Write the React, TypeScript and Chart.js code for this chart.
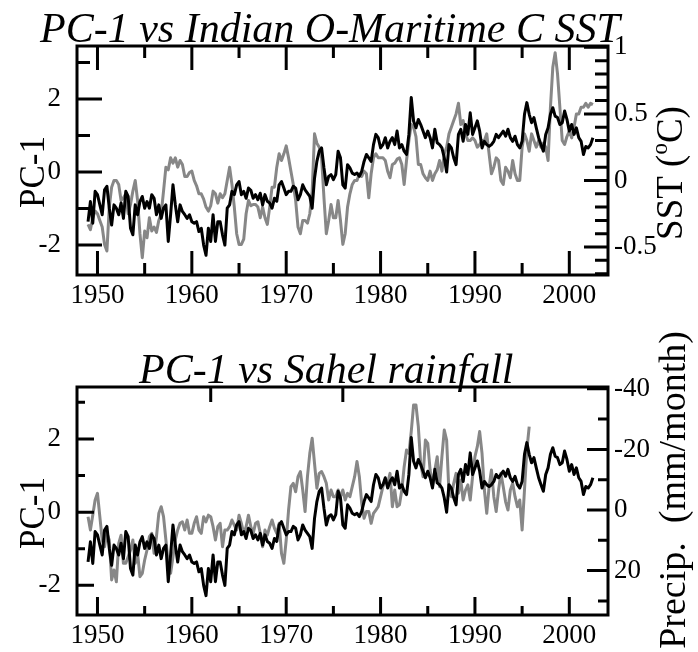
import React, { useEffect, useRef } from "react";
import { Chart, registerables } from "chart.js";

Chart.register(...registerables);

// ---------- DATA (quarterly, starting 1949.0) ----------
const START_YEAR = 1949;
const STEP = 0.25;

const pc1 = [
  -1.36, -0.81, -1.4, -0.53,
  -0.62, -0.9, -1.17, -0.49,
  -0.39, -0.99, -1.45, -0.9,
  -0.99, -1.17, -0.85, -1.27,
  -0.53, -0.67, -1.54, -1.72,
  -0.9, -1.17, -0.81, -0.67,
  -0.99, -0.81, -0.99, -0.62,
  -0.72, -1.17, -0.9, -1.27,
  -0.99, -0.9, -1.9, -1.17,
  -0.35, -0.9, -1.36, -0.9,
  -1.08, -1.17, -1.27, -1.17,
  -1.36, -1.4, -1.36, -1.63,
  -1.54, -2.0, -2.28, -1.54,
  -1.9, -1.17, -1.9, -1.36,
  -1.36, -1.72, -2.0, -0.99,
  -0.9, -0.53, -0.62, -0.35,
  -0.26, -0.62, -0.53, -0.72,
  -0.44, -0.5, -0.72, -0.62,
  -0.76, -0.58, -0.9, -0.62,
  -0.8, -0.85, -0.99, -0.72,
  -0.8, -0.35, -0.26, -0.44,
  -0.62, -0.53, -0.53, -0.39,
  -0.44, -0.76, -0.62, -0.35,
  -0.49, -0.58, -0.67, -0.99,
  -0.17, 0.29, 0.57, 0.66,
  0.11, -0.35, -0.12, -0.07,
  -0.21, -0.07, 0.57, 0.39,
  -0.35, -0.44, 0.2, 0.11,
  -0.03, -0.07, -0.03, -0.12,
  0.02, 0.29, 0.48, 0.39,
  0.29, 0.75, 1.03, 0.94,
  0.66, 0.75, 0.94, 0.66,
  0.84, 0.94, 0.75, 1.12,
  0.66, 0.75, 0.57, 0.48,
  1.03, 2.04, 1.39, 1.21,
  1.44, 1.3, 1.12, 0.94,
  1.12, 0.94, 0.66, 1.17,
  0.8, 0.75, 0.66, 0.39,
  0.0, 0.75, 0.66, 0.39,
  0.2, 1.03, 1.17, 0.84,
  1.3, 1.03, 1.62, 1.03,
  1.21, 1.4, 1.12, 0.66,
  0.84, 0.75, 0.7, 0.75,
  0.84, 1.03, 0.94, 1.03,
  1.12, 0.98, 1.17, 0.94,
  0.84, 0.98, 0.75, 0.66,
  0.84, 1.58, 1.9, 1.58,
  1.35, 1.49, 1.21, 0.94,
  0.75, 0.57, 1.03, 1.21,
  1.58, 1.76, 1.53, 1.49,
  1.3, 1.35, 1.67, 1.44,
  1.12, 1.3, 1.03, 1.21,
  0.94, 0.84, 0.48, 0.7,
  0.66, 0.75, 0.94,
];

const sst = [
  -0.33, -0.37, -0.28, -0.23,
  -0.25, -0.3, -0.35, -0.48,
  -0.53, -0.2, -0.05, 0.0,
  0.0, -0.03, -0.15, -0.13,
  -0.1, -0.25, -0.18, -0.08,
  0.0, -0.15, -0.4, -0.58,
  -0.38, -0.43, -0.28, -0.38,
  -0.35, -0.39, -0.3, -0.25,
  -0.08, 0.1, 0.08, 0.17,
  0.13, 0.17, 0.1, 0.15,
  0.12, 0.03, 0.03, 0.06,
  0.07, 0.0, -0.04, -0.1,
  -0.1, -0.14, -0.2, -0.23,
  -0.19, -0.08, -0.1, -0.17,
  -0.1, -0.13, -0.1, 0.0,
  0.1, -0.03, -0.2, -0.4,
  -0.48, -0.48, -0.44, -0.25,
  -0.15, -0.19, -0.18, -0.18,
  -0.2, -0.28, -0.2, -0.28,
  -0.33, -0.2, -0.05, -0.05,
  0.1, 0.2, 0.15, 0.2,
  0.26, 0.17, 0.07, -0.03,
  -0.15, -0.35, -0.4, -0.3,
  -0.3, -0.32, -0.25, -0.08,
  0.35, 0.28, 0.25, 0.17,
  -0.13, -0.4, -0.3, -0.18,
  -0.28, -0.28, -0.15, -0.3,
  -0.48, -0.4, -0.2, -0.1,
  -0.03, 0.0, 0.0, 0.05,
  0.03, 0.07, 0.05, -0.13,
  0.05, 0.17, 0.2, 0.17,
  0.17, 0.17, 0.15, 0.07,
  0.02, 0.12, 0.13, 0.16,
  0.17, 0.12, -0.03, 0.15,
  0.3, 0.42, 0.4, 0.33,
  0.12, 0.12, 0.05, 0.02,
  0.0, 0.07, 0.0, 0.05,
  0.08, 0.15, 0.07, 0.2,
  0.25, 0.35, 0.4, 0.45,
  0.5, 0.58, 0.42, 0.45,
  0.35, 0.3, 0.3, 0.32,
  0.3, 0.25, 0.27, 0.3,
  0.3, 0.35, 0.2, 0.05,
  0.1, 0.17, 0.15, 0.0,
  -0.03, 0.1, 0.07, 0.02,
  0.15, 0.05, 0.0, 0.0,
  0.25, 0.35, 0.3, 0.22,
  0.35, 0.3, 0.25, 0.3,
  0.25, 0.28, 0.25, 0.15,
  0.55, 0.85, 0.96, 0.8,
  0.55, 0.3, 0.27, 0.33,
  0.37, 0.32, 0.4, 0.5,
  0.5, 0.55, 0.55, 0.58,
  0.55, 0.58, 0.57,
];

const precip = [
  2.2, 6.6, 1.7, -3.3,
  -5.5, 2.2, 9.9, 12.1,
  7.7, 9.9, 23.1, 19.8,
  23.7, 11.0, 8.3, 17.6,
  17.6, 15.4, 13.2, 9.9,
  17.6, 14.3, 22.0, 20.9,
  16.5, 13.2, 8.8, 7.7,
  14.3, 8.8, 1.1, -1.1,
  2.2, 9.9, 17.6, 20.9,
  15.4, 9.9, 6.6, 4.4,
  3.9, 6.6, 3.3, 7.7,
  7.7, 4.4, 2.2, 6.6,
  7.7, 2.2, 3.9, 1.7,
  2.2, 5.5, 9.9, 5.5,
  4.4, 12.1, 6.6, 6.6,
  5.5, 3.3, 5.0, 6.6,
  1.7, 4.4, 7.7, 5.5,
  1.7, 5.5, 7.7, 4.4,
  3.9, 7.7, 12.1, 6.6,
  8.3, 5.5, 3.3, 6.0,
  7.7, 4.4, 14.3, 17.6,
  9.9, 0.0, -7.7, -8.8,
  -6.0, -11.0, -12.7, -6.6,
  0.5, -11.0, -18.7, -23.7,
  -15.4, -7.2, -12.1, -12.7,
  -11.0, -8.8, -3.3, -6.6,
  -4.4, -4.4, -6.6, -4.4,
  -6.6, -3.3, -5.5, -4.4,
  -7.7, -11.0, -16.0, -11.0,
  -2.2, 2.7, 0.5, 0.5,
  4.4, 1.1, 0.0, -1.1,
  -4.4, -7.7, -9.9, -8.8,
  -12.1, -1.1, -6.6, -1.1,
  -1.7, -6.6, -14.3, -19.8,
  -18.7, -25.9, -34.7, -34.7,
  -27.5, -15.4, -11.0, -23.1,
  -22.0, -13.2, -7.7, -13.2,
  -17.6, -7.7, -17.6, -26.4,
  -23.1, -5.5, -4.4, -8.8,
  -12.1, -5.5, -9.9, -3.3,
  -6.6, -8.3, -3.3, -11.0,
  -17.6, -20.9, -25.9, -18.7,
  -6.6, 1.1, -7.7, -13.2,
  -4.4, 0.5, -6.6, -12.1,
  -7.7, -2.7, 0.0, -6.6,
  -8.8, -4.4, -1.1, -3.3,
  6.6, -6.6, -19.8, -27.5,
];

// ---------- TICKS / LABELS ----------
const xLabelYears = [1950, 1960, 1970, 1980, 1990, 2000];
const xHalfYears = [1955, 1965, 1975, 1985, 1995];
const bottomPanelTopTicks = [1962, 1976, 1990];
const pcLabels = [-2, 0, 2];
const pcMinor = [-1, 1, 3];
const sstLabels = [-0.5, 0, 0.5, 1];
const sstMinor = [-0.7, -0.6, -0.4, -0.3, -0.2, -0.1, 0.1, 0.2, 0.3, 0.4, 0.6, 0.7, 0.8, 0.9];
const precipLabels = [-40, -20, 0, 20];
const precipMinor = [-30, -10, 10, 30];

const TITLE_TOP = "PC-1 vs Indian O-Maritime C SST";
const TITLE_BOTTOM = "PC-1 vs Sahel rainfall";
const Y_LEFT_TITLE = "PC-1";
const SST_TITLE = ["SST (", "o", "C)"];
const PRECIP_TITLE = "Precip.  (mm/month)";

const FONT = '"Liberation Serif", "Times New Roman", serif';
const GRAY = "#878787";

const toPoints = (arr: number[]) => arr.map((v, i) => ({ x: START_YEAR + i * STEP, y: v }));

type FrameSpec = {
  xTop: number[];
  xTopMinor: number[];
  xTopLen: number;
  xTopMinorLen: number;
  xBotLen: number;
  xBotMinorLen: number;
  leftLen: number;
  leftMinorLen: number;
  rightMajor: number[];
  rightMinor: number[];
  rightLen: number;
  rightMinorLen: number;
  title: string;
  titleX: number;
  titleY: number;
  leftTitleX: number;
  leftTitleY: number;
  rightTitleX: number;
  rightTitleY: number;
  rightTitle: "sst" | "precip";
};

function framePlugin(spec: FrameSpec) {
  return {
    id: "frame",
    afterDraw(chart: any) {
      const { ctx, chartArea: a, scales } = chart;
      const x = scales.x;
      const yl = scales.y;
      const yr = scales.y1;
      ctx.save();
      ctx.strokeStyle = "#000";
      ctx.lineWidth = 3;
      ctx.lineCap = "butt";
      ctx.beginPath();
      xLabelYears.forEach((t) => {
        const p = x.getPixelForValue(t);
        ctx.moveTo(p, a.bottom);
        ctx.lineTo(p, a.bottom - spec.xBotLen);
      });
      xHalfYears.forEach((t) => {
        const p = x.getPixelForValue(t);
        ctx.moveTo(p, a.bottom);
        ctx.lineTo(p, a.bottom - spec.xBotMinorLen);
      });
      spec.xTop.forEach((t) => {
        const p = x.getPixelForValue(t);
        ctx.moveTo(p, a.top);
        ctx.lineTo(p, a.top + spec.xTopLen);
      });
      spec.xTopMinor.forEach((t) => {
        const p = x.getPixelForValue(t);
        ctx.moveTo(p, a.top);
        ctx.lineTo(p, a.top + spec.xTopMinorLen);
      });
      pcLabels.forEach((v) => {
        const p = yl.getPixelForValue(v);
        ctx.moveTo(a.left, p);
        ctx.lineTo(a.left + spec.leftLen, p);
      });
      pcMinor.forEach((v) => {
        const p = yl.getPixelForValue(v);
        ctx.moveTo(a.left, p);
        ctx.lineTo(a.left + spec.leftMinorLen, p);
      });
      spec.rightMajor.forEach((v) => {
        const p = yr.getPixelForValue(v);
        ctx.moveTo(a.right, p);
        ctx.lineTo(a.right - spec.rightLen, p);
      });
      spec.rightMinor.forEach((v) => {
        const p = yr.getPixelForValue(v);
        ctx.moveTo(a.right, p);
        ctx.lineTo(a.right - spec.rightMinorLen, p);
      });
      ctx.stroke();
      ctx.strokeRect(a.left, a.top, a.right - a.left, a.bottom - a.top);

      ctx.fillStyle = "#000";
      ctx.textBaseline = "alphabetic";
      ctx.textAlign = "left";
      ctx.font = `italic 42px ${FONT}`;
      ctx.fillText(spec.title, spec.titleX, spec.titleY);

      ctx.save();
      ctx.translate(spec.leftTitleX, spec.leftTitleY);
      ctx.rotate(-Math.PI / 2);
      ctx.font = `35px ${FONT}`;
      ctx.textAlign = "center";
      ctx.textBaseline = "middle";
      ctx.fillText(Y_LEFT_TITLE, 0, 0);
      ctx.restore();

      ctx.save();
      ctx.translate(spec.rightTitleX, spec.rightTitleY);
      ctx.rotate(-Math.PI / 2);
      ctx.textBaseline = "middle";
      ctx.textAlign = "left";
      if (spec.rightTitle === "sst") {
        const big = `37px ${FONT}`;
        const small = `23px ${FONT}`;
        ctx.font = big;
        const w0 = ctx.measureText(SST_TITLE[0]).width;
        const w2 = ctx.measureText(SST_TITLE[2]).width;
        ctx.font = small;
        const w1 = ctx.measureText(SST_TITLE[1]).width;
        let cx = -(w0 + w1 + w2) / 2;
        ctx.font = big;
        ctx.fillText(SST_TITLE[0], cx, 0);
        cx += w0;
        ctx.font = small;
        ctx.fillText(SST_TITLE[1], cx, -11);
        cx += w1;
        ctx.font = big;
        ctx.fillText(SST_TITLE[2], cx, 0);
      } else {
        ctx.font = `38px ${FONT}`;
        ctx.textAlign = "center";
        ctx.fillText(PRECIP_TITLE, 0, 0);
      }
      ctx.restore();
      ctx.restore();
    },
  };
}

function tickFont() {
  return { family: FONT, size: 27 };
}

function makeScales(opts: {
  leftMin: number;
  leftMax: number;
  rightMin: number;
  rightMax: number;
  rightReverse: boolean;
  rightLabels: number[];
  leftWidth: number;
  rightWidth: number;
  xHeight: number;
  xMin: number;
  xMax: number;
}) {
  return {
    x: {
      type: "linear",
      position: "bottom",
      min: opts.xMin,
      max: opts.xMax,
      grid: { display: false, drawTicks: false },
      border: { display: false },
      ticks: {
        font: tickFont(),
        color: "#000",
        padding: 5,
        autoSkip: false,
        maxRotation: 0,
        callback: (v: any) => String(v),
      },
      afterBuildTicks: (s: any) => {
        s.ticks = xLabelYears.map((v) => ({ value: v }));
      },
      afterFit: (s: any) => {
        s.height = opts.xHeight;
      },
    },
    y: {
      type: "linear",
      position: "left",
      min: opts.leftMin,
      max: opts.leftMax,
      grid: { display: false, drawTicks: false },
      border: { display: false },
      ticks: {
        font: tickFont(),
        color: "#000",
        padding: 16,
        callback: (v: any) => String(v),
      },
      afterBuildTicks: (s: any) => {
        s.ticks = pcLabels.map((v) => ({ value: v }));
      },
      afterFit: (s: any) => {
        s.width = opts.leftWidth;
      },
    },
    y1: {
      type: "linear",
      position: "right",
      min: opts.rightMin,
      max: opts.rightMax,
      reverse: opts.rightReverse,
      grid: { display: false, drawTicks: false },
      border: { display: false },
      ticks: {
        font: tickFont(),
        color: "#000",
        padding: 6,
        callback: (v: any) => String(v),
      },
      afterBuildTicks: (s: any) => {
        s.ticks = opts.rightLabels.map((v) => ({ value: v }));
      },
      afterFit: (s: any) => {
        s.width = opts.rightWidth;
      },
    },
  };
}

export default function App() {
  const topRef = useRef<HTMLCanvasElement>(null);
  const botRef = useRef<HTMLCanvasElement>(null);

  useEffect(() => {
    const X_MIN = 1947.83;
    const X_MAX = 2004.1;

    const top = new Chart(topRef.current as HTMLCanvasElement, {
      type: "line",
      data: {
        datasets: [
          { data: toPoints(pc1), borderColor: "#000", borderWidth: 3, pointRadius: 0, yAxisID: "y", borderJoinStyle: "round" },
          { data: toPoints(sst), borderColor: GRAY, borderWidth: 3, pointRadius: 0, yAxisID: "y1", borderJoinStyle: "round" },
        ],
      },
      options: {
        responsive: false,
        animation: false,
        devicePixelRatio: 1,
        layout: { padding: { top: 46, left: 0, right: 0, bottom: 0 } },
        plugins: { legend: { display: false }, tooltip: { enabled: false }, title: { display: false } },
        elements: { line: { tension: 0 } },
        scales: makeScales({
          leftMin: -2.82,
          leftMax: 3.45,
          rightMin: -0.71,
          rightMax: 1.01,
          rightReverse: false,
          rightLabels: sstLabels,
          leftWidth: 77,
          rightWidth: 90,
          xHeight: 55,
          xMin: X_MIN,
          xMax: X_MAX,
        }) as any,
      },
      plugins: [
        framePlugin({
          xTop: xLabelYears,
          xTopMinor: xHalfYears,
          xTopLen: 24,
          xTopMinorLen: 12,
          xBotLen: 24,
          xBotMinorLen: 12,
          leftLen: 25,
          leftMinorLen: 13,
          rightMajor: sstLabels,
          rightMinor: sstMinor,
          rightLen: 24,
          rightMinorLen: 13,
          title: TITLE_TOP,
          titleX: 40,
          titleY: 42,
          leftTitleX: 35,
          leftTitleY: 172,
          rightTitleX: 672,
          rightTitleY: 173,
          rightTitle: "sst",
        }),
      ],
    } as any);

    const bot = new Chart(botRef.current as HTMLCanvasElement, {
      type: "line",
      data: {
        datasets: [
          { data: toPoints(pc1), borderColor: "#000", borderWidth: 3, pointRadius: 0, yAxisID: "y", borderJoinStyle: "round" },
          { data: toPoints(precip), borderColor: GRAY, borderWidth: 3, pointRadius: 0, yAxisID: "y1", borderJoinStyle: "round" },
        ],
      },
      options: {
        responsive: false,
        animation: false,
        devicePixelRatio: 1,
        layout: { padding: { top: 57, left: 0, right: 0, bottom: 0 } },
        plugins: { legend: { display: false }, tooltip: { enabled: false }, title: { display: false } },
        elements: { line: { tension: 0 } },
        scales: makeScales({
          leftMin: -2.81,
          leftMax: 3.42,
          rightMin: -40.6,
          rightMax: 34.65,
          rightReverse: true,
          rightLabels: precipLabels,
          leftWidth: 77,
          rightWidth: 90,
          xHeight: 37,
          xMin: X_MIN,
          xMax: X_MAX,
        }) as any,
      },
      plugins: [
        framePlugin({
          xTop: bottomPanelTopTicks,
          xTopMinor: [],
          xTopLen: 15,
          xTopMinorLen: 8,
          xBotLen: 18,
          xBotMinorLen: 9,
          leftLen: 17,
          leftMinorLen: 8,
          rightMajor: precipLabels,
          rightMinor: precipMinor,
          rightLen: 21,
          rightMinorLen: 10,
          title: TITLE_BOTTOM,
          titleX: 139,
          titleY: 53,
          leftTitleX: 35,
          leftTitleY: 183,
          rightTitleX: 675,
          rightTitleY: 160,
          rightTitle: "precip",
        }),
      ],
    } as any);

    return () => {
      top.destroy();
      bot.destroy();
    };
  }, []);

  return (
    <div style={{ position: "absolute", left: 0, top: 0, width: 698, height: 652, background: "#fff" }}>
      <canvas ref={topRef} width={698} height={330} style={{ position: "absolute", left: 0, top: 0, width: 698, height: 330 }} />
      <canvas ref={botRef} width={698} height={322} style={{ position: "absolute", left: 0, top: 330, width: 698, height: 322 }} />
    </div>
  );
}
